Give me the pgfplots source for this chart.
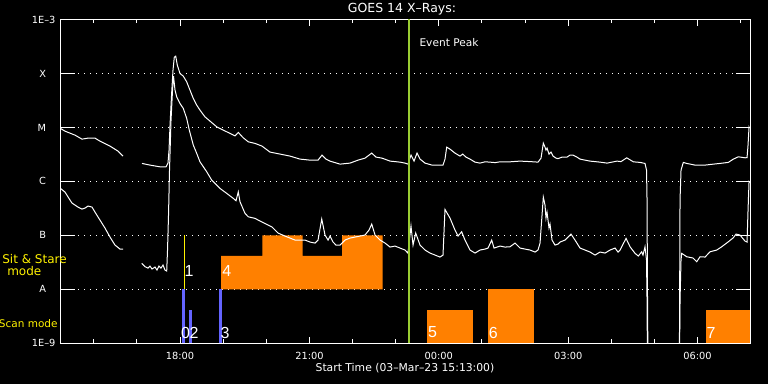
\documentclass[border=0pt]{standalone}
\usepackage{fontspec}
\setmainfont{DejaVu Sans}
\newfontfamily\digitfont{Liberation Sans}
\usepackage{pgfplots}
\pgfplotsset{compat=1.18}
\definecolor{evt}{RGB}{154,205,50}
\definecolor{scanblue}{RGB}{100,100,255}
\definecolor{ssorange}{RGB}{255,128,0}
\newcommand\fs[1]{\fontsize{#1}{#1}\selectfont}
\begin{document}
\begin{tikzpicture}[x=1bp,y=1bp]
\fill[black] (0,0) rectangle (768,384);
\useasboundingbox (0,0) rectangle (768,384);
\begin{axis}[
  at={(60bp,40.7bp)}, anchor=south west, scale only axis,
  width=690bp, height=323.8bp,
  xmin=15.2167, xmax=31.2167, ymin=-9, ymax=-3,
  axis line style={white, line width=1bp},
  xtick={18,21,24,27,30},
  xticklabels={18:00,21:00,00:00,03:00,06:00},
  minor xtick={16,17,19,20,22,23,25,26,28,29,31},
  major tick length=6.5bp, minor tick length=4bp,
  xtick style={white, line width=1bp},
  ytick={-9,-8,-7,-6,-5,-4,-3},
  yticklabels={1E--9,A\kern9.5bp,B\kern9.5bp,C\kern9.5bp,M\kern9.5bp,X\kern9.5bp,1E--3},
  ytick style={draw=none},
  ymajorgrids,
  major grid style={white, line width=1bp, dash pattern=on 1bp off 5bp},
  ticklabel style={white, font=\fs{9.8bp}},
  xticklabel style={yshift=-5bp},
  yticklabel style={xshift=-1bp},
]
% Sit & Stare block 4
\addplot[fill=ssorange, draw=none, forget plot] coordinates {(18.950,-8)(18.950,-7.378)(19.908,-7.378)(19.908,-7)(20.845,-7)(20.845,-7.378)(21.756,-7.378)(21.756,-7)(22.700,-7)(22.700,-8)};
% Scan blocks 5,6,7
\addplot[fill=ssorange, draw=none, forget plot] coordinates {(23.720,-9)(23.720,-8.383)(24.787,-8.383)(24.787,-9)};
\addplot[fill=ssorange, draw=none, forget plot] coordinates {(25.142,-9)(25.142,-8)(26.201,-8)(26.201,-9)};
\addplot[fill=ssorange, draw=none, forget plot] coordinates {(30.197,-9)(30.197,-8.383)(31.2167,-8.383)(31.2167,-9)};
% Scan bars 0,2,3
\addplot[scanblue, line width=2.6bp, forget plot] coordinates {(18.085,-9)(18.085,-8)};
\addplot[scanblue, line width=2.6bp, forget plot] coordinates {(18.236,-9)(18.236,-8.383)};
\addplot[scanblue, line width=2.6bp, forget plot] coordinates {(18.934,-9)(18.934,-8)};
% Sit & stare 1
\addplot[yellow, line width=1bp, forget plot] coordinates {(18.099,-8)(18.099,-7)};
% Long channel
\addplot[white, line width=1bp] coordinates {(15.217,-5.013)(15.333,-5.069)(15.565,-5.143)(15.727,-5.217)(15.866,-5.198)(16.028,-5.198)(16.144,-5.254)(16.376,-5.346)(16.562,-5.439)(16.678,-5.531)};
\addplot[white, line width=1bp] coordinates {(17.118,-5.667)(17.304,-5.698)(17.536,-5.730)(17.675,-5.730)(17.721,-5.661)(17.745,-5.420)(17.768,-4.957)(17.803,-4.402)(17.837,-3.939)(17.867,-3.698)(17.900,-3.680)(17.937,-3.846)(17.999,-4.000)(18.076,-4.050)(18.155,-4.156)(18.231,-4.309)(18.308,-4.463)(18.387,-4.587)(18.463,-4.680)(18.579,-4.804)(18.695,-4.883)(18.851,-4.989)(19.004,-5.050)(19.159,-5.111)(19.275,-5.156)(19.351,-5.093)(19.467,-5.193)(19.583,-5.267)(19.739,-5.296)(19.901,-5.346)(20.087,-5.457)(20.319,-5.494)(20.550,-5.531)(20.782,-5.587)(21.014,-5.606)(21.200,-5.606)(21.292,-5.513)(21.385,-5.587)(21.478,-5.624)(21.710,-5.680)(21.942,-5.661)(22.127,-5.606)(22.290,-5.569)(22.445,-5.476)(22.545,-5.550)(22.684,-5.569)(22.870,-5.624)(23.101,-5.643)(23.217,-5.661)(23.286,-5.680)(23.356,-5.513)(23.426,-5.624)(23.495,-5.476)(23.565,-5.587)(23.681,-5.661)(23.843,-5.698)(24.098,-5.698)(24.144,-5.587)(24.184,-5.365)(24.260,-5.402)(24.376,-5.476)(24.492,-5.531)(24.555,-5.494)(24.631,-5.550)(24.724,-5.587)(24.840,-5.643)(24.956,-5.661)(25.072,-5.637)(25.188,-5.643)(25.304,-5.652)(25.420,-5.637)(25.652,-5.637)(25.884,-5.624)(26.116,-5.633)(26.301,-5.643)(26.371,-5.569)(26.424,-5.291)(26.463,-5.365)(26.486,-5.420)(26.510,-5.383)(26.556,-5.494)(26.602,-5.457)(26.649,-5.531)(26.719,-5.569)(26.765,-5.578)(26.858,-5.550)(26.974,-5.550)(27.043,-5.513)(27.113,-5.513)(27.205,-5.550)(27.275,-5.587)(27.391,-5.606)(27.507,-5.624)(27.739,-5.643)(27.901,-5.661)(28.017,-5.643)(28.133,-5.624)(28.226,-5.633)(28.357,-5.563)(28.511,-5.637)(28.666,-5.648)(28.782,-5.667)(28.817,-5.791)(28.829,-6.346)(28.840,-8.2)(28.852,-9.5)};
\addplot[white, line width=1bp] coordinates {(29.578,-9.5)(29.594,-6.346)(29.617,-5.791)(29.670,-5.648)(29.749,-5.667)(29.942,-5.698)(30.174,-5.698)(30.366,-5.680)(30.521,-5.667)(30.714,-5.648)(30.830,-5.587)(30.946,-5.544)(31.101,-5.563)(31.148,-5.559)(31.171,-5.328)(31.194,-4.994)(31.205,-5.013)};
% Short channel
\addplot[white, line width=1bp] coordinates {(15.217,-6.124)(15.333,-6.198)(15.449,-6.346)(15.495,-6.402)(15.634,-6.476)(15.727,-6.513)(15.797,-6.494)(15.866,-6.457)(15.959,-6.476)(16.028,-6.569)(16.144,-6.717)(16.260,-6.865)(16.376,-7.031)(16.492,-7.180)(16.608,-7.254)(16.678,-7.254)};
\addplot[white, line width=1bp] coordinates {(17.111,-7.519)(17.188,-7.581)(17.257,-7.606)(17.304,-7.569)(17.350,-7.624)(17.420,-7.587)(17.466,-7.643)(17.512,-7.569)(17.559,-7.606)(17.605,-7.550)(17.651,-7.643)(17.691,-7.661)(17.710,-7.272)(17.733,-6.624)(17.756,-5.791)(17.791,-4.865)(17.826,-4.309)(17.849,-4.050)(17.884,-4.309)(17.923,-4.433)(17.999,-4.556)(18.076,-4.648)(18.155,-4.833)(18.215,-5.050)(18.308,-5.328)(18.387,-5.481)(18.463,-5.637)(18.619,-5.822)(18.735,-5.976)(18.927,-6.130)(19.082,-6.222)(19.236,-6.315)(19.298,-6.359)(19.351,-6.193)(19.391,-6.378)(19.507,-6.593)(19.583,-6.656)(19.739,-6.685)(19.855,-6.735)(20.040,-6.809)(20.133,-6.846)(20.272,-6.957)(20.434,-7.013)(20.550,-7.050)(20.666,-7.087)(20.898,-7.087)(21.014,-7.124)(21.130,-7.143)(21.200,-7.087)(21.286,-6.698)(21.362,-6.994)(21.432,-7.087)(21.478,-7.013)(21.548,-7.124)(21.617,-7.180)(21.710,-7.180)(21.826,-7.087)(21.942,-7.050)(22.058,-7.031)(22.173,-7.013)(22.289,-6.994)(22.382,-6.902)(22.445,-6.791)(22.522,-6.994)(22.638,-7.087)(22.754,-7.143)(22.870,-7.217)(22.985,-7.198)(23.101,-7.235)(23.217,-7.272)(23.286,-7.328)(23.356,-6.828)(23.403,-7.180)(23.465,-6.957)(23.565,-7.180)(23.681,-7.272)(23.797,-7.328)(23.913,-7.365)(24.028,-7.402)(24.098,-7.365)(24.144,-6.519)(24.260,-6.680)(24.376,-6.902)(24.446,-7.013)(24.531,-6.933)(24.608,-7.087)(24.724,-7.272)(24.840,-7.328)(24.956,-7.272)(25.072,-7.254)(25.142,-7.235)(25.227,-7.087)(25.281,-7.235)(25.420,-7.198)(25.536,-7.217)(25.652,-7.211)(25.768,-7.143)(25.884,-7.235)(26.000,-7.254)(26.116,-7.272)(26.232,-7.309)(26.301,-7.272)(26.348,-7.143)(26.394,-6.624)(26.424,-6.291)(26.463,-6.439)(26.486,-6.680)(26.510,-6.569)(26.556,-6.865)(26.579,-6.791)(26.626,-7.087)(26.695,-7.180)(26.765,-7.161)(26.811,-7.124)(26.927,-7.087)(27.066,-6.976)(27.159,-7.087)(27.275,-7.235)(27.391,-7.272)(27.507,-7.309)(27.623,-7.365)(27.739,-7.309)(27.855,-7.328)(27.971,-7.272)(28.087,-7.235)(28.156,-7.309)(28.203,-7.272)(28.342,-7.056)(28.435,-7.211)(28.550,-7.333)(28.627,-7.383)(28.705,-7.304)(28.735,-7.365)(28.782,-7.211)(28.817,-7.457)(28.829,-8.2)(28.840,-9.5)};
\addplot[white, line width=1bp] coordinates {(29.578,-9.5)(29.594,-8.2)(29.617,-7.457)(29.633,-7.333)(29.749,-7.396)(29.896,-7.420)(29.981,-7.489)(30.058,-7.396)(30.174,-7.402)(30.290,-7.304)(30.445,-7.272)(30.561,-7.211)(30.714,-7.119)(30.830,-7.044)(30.892,-6.976)(30.985,-6.994)(31.101,-7.106)(31.148,-7.124)(31.171,-6.531)(31.194,-6.013)(31.205,-6.031)};
% Event peak
\addplot[evt, line width=2bp] coordinates {(23.303,-9)(23.303,-3)};
% y ticks (both sides)
\draw[white, line width=1bp] (axis cs:15.2167,-8) -- ++(15bp,0bp);
\draw[white, line width=1bp] (axis cs:15.2167,-7) -- ++(15bp,0bp);
\draw[white, line width=1bp] (axis cs:15.2167,-6) -- ++(15bp,0bp);
\draw[white, line width=1bp] (axis cs:15.2167,-5) -- ++(15bp,0bp);
\draw[white, line width=1bp] (axis cs:15.2167,-4) -- ++(15bp,0bp);
\draw[white, line width=1bp] (axis cs:31.2167,-8) -- ++(-14bp,0bp);
\draw[white, line width=1bp] (axis cs:31.2167,-7) -- ++(-14bp,0bp);
\draw[white, line width=1bp] (axis cs:31.2167,-6) -- ++(-14bp,0bp);
\draw[white, line width=1bp] (axis cs:31.2167,-5) -- ++(-14bp,0bp);
\draw[white, line width=1bp] (axis cs:31.2167,-4) -- ++(-14bp,0bp);
% labels
\node[white, anchor=west, inner sep=0, font=\fs{10.6bp}] at (axis cs:23.549,-3.433) {Event Peak};
\begin{scope}[every node/.style={white, inner sep=0, font=\digitfont\fs{16bp}}]
\node at (axis cs:18.208,-7.661) {1};
\node at (axis cs:19.083,-7.661) {4};
\node at (axis cs:18.127,-8.815) {0};
\node at (axis cs:18.324,-8.815) {2};
\node at (axis cs:19.043,-8.815) {3};
\node at (axis cs:23.854,-8.80) {5};
\node at (axis cs:25.264,-8.815) {6};
\node at (axis cs:30.313,-8.80) {7};
\end{scope}
\end{axis}
\node[white, font=\fs{12.5bp}] at (402,374.5) {GOES 14 X--Rays:};
\node[white, font=\fs{10.8bp}] at (405,16) {Start Time (03--Mar--23 15:13:00)};
\node[yellow, font=\fs{12bp}] at (34.5,125) {Sit \& Stare};
\node[yellow, font=\fs{12bp}] at (24.3,113) {mode};
\node[yellow, font=\fs{10.5bp}] at (28.3,60) {Scan mode};
\end{tikzpicture}
\end{document}
